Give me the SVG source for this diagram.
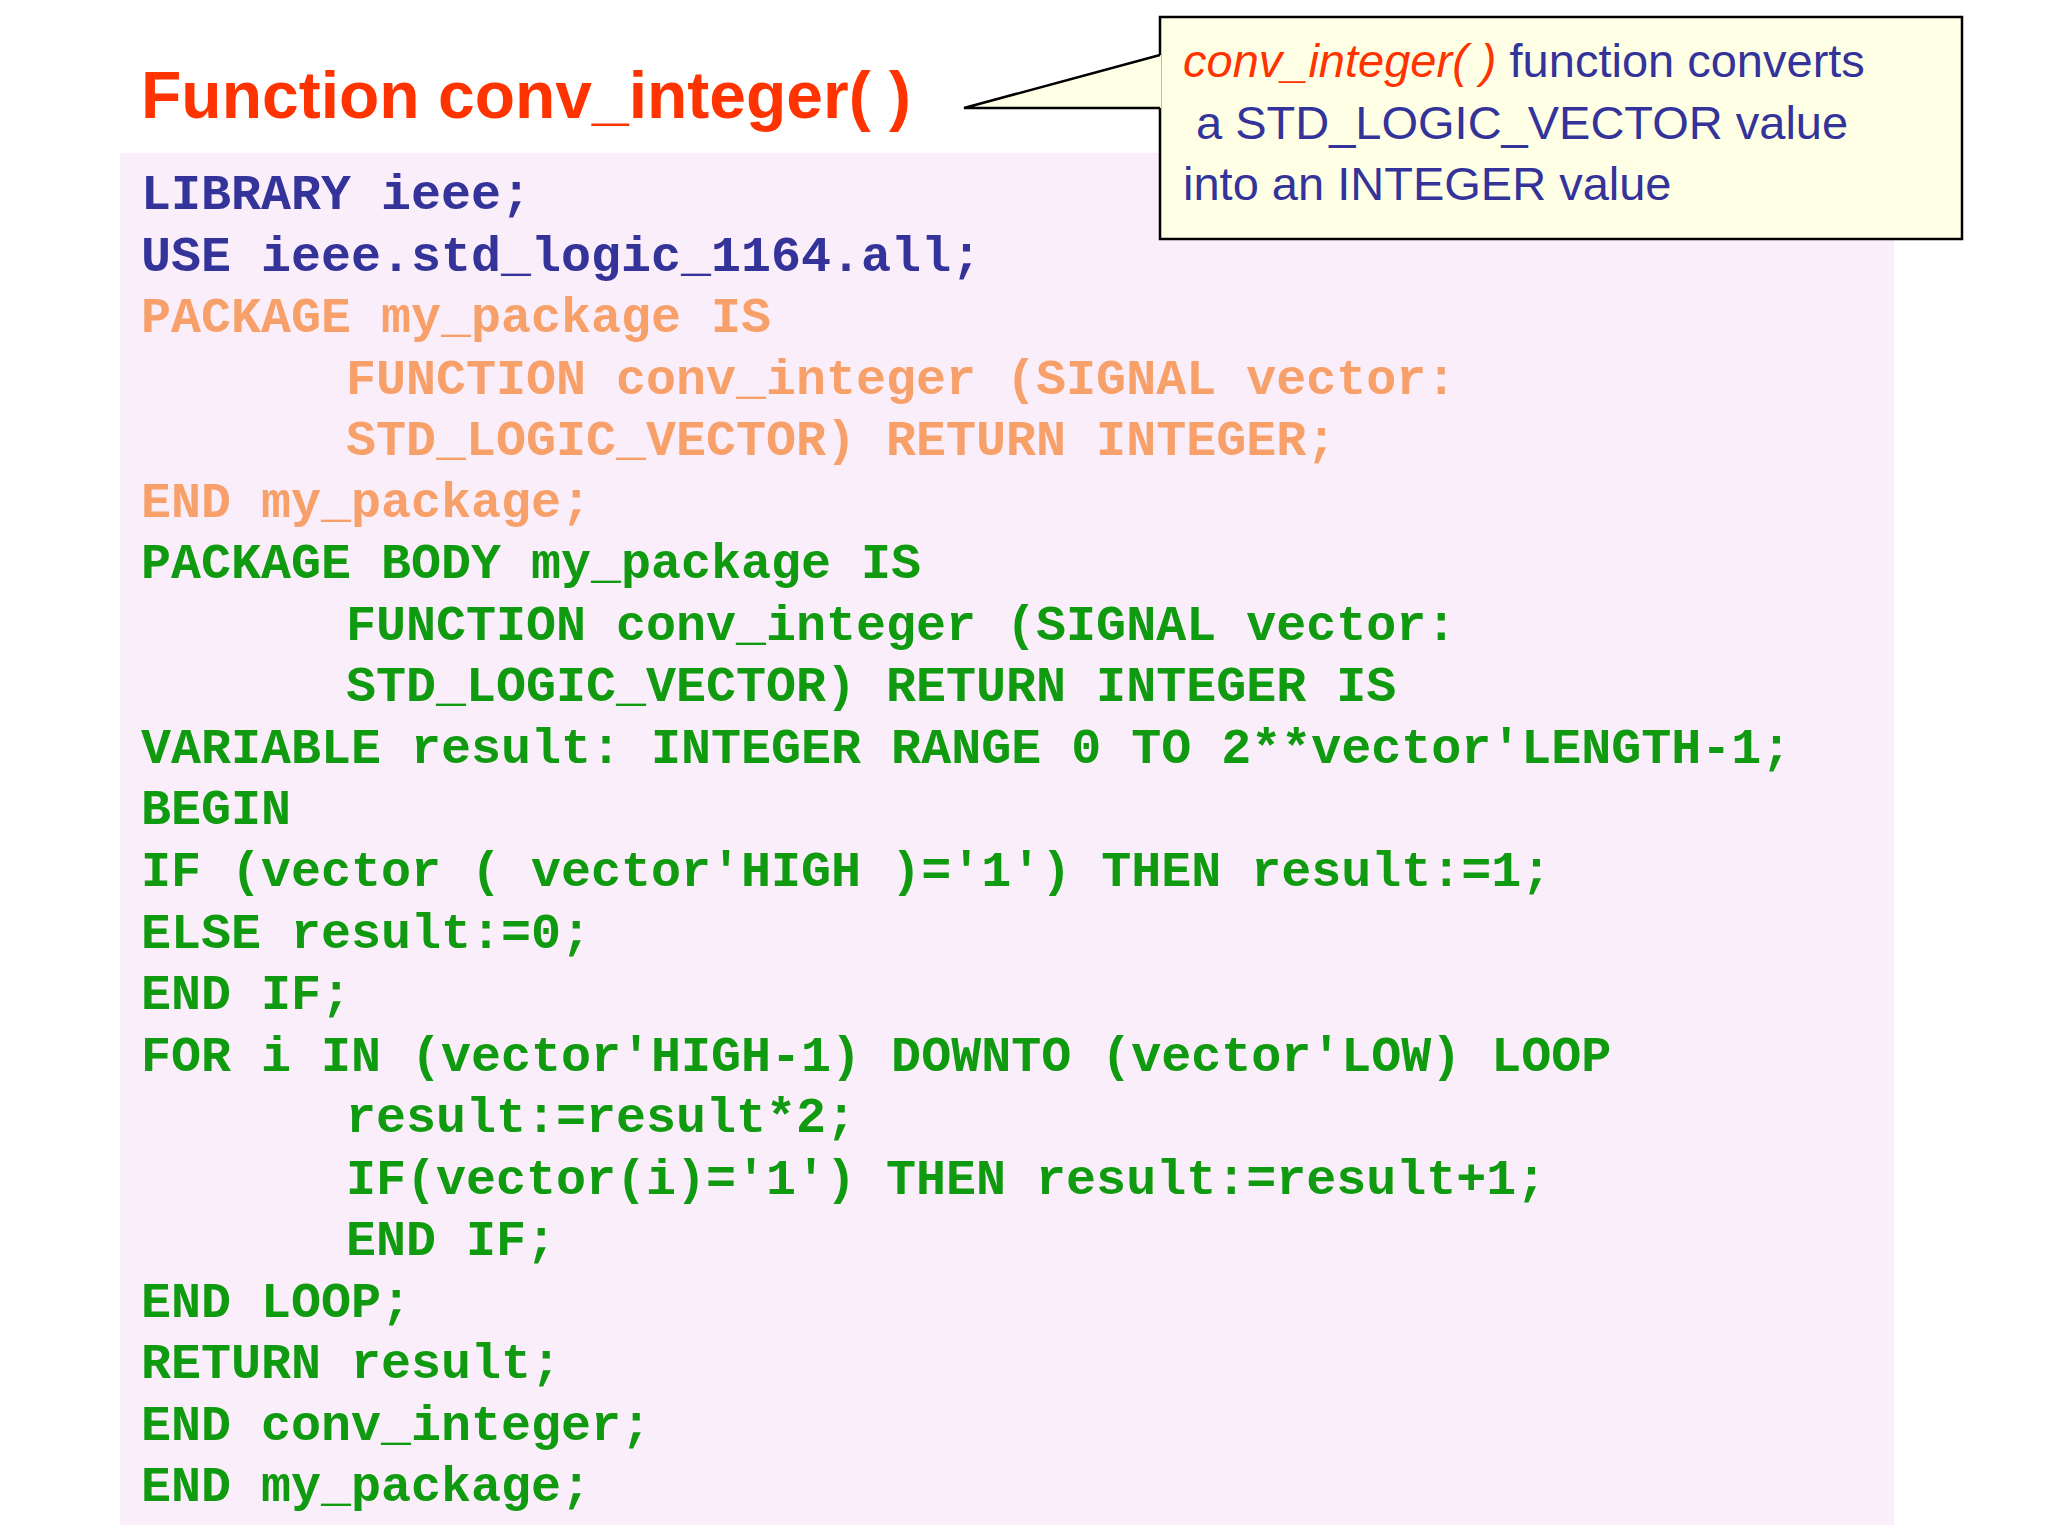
<svg xmlns="http://www.w3.org/2000/svg" width="2048" height="1536" viewBox="0 0 2048 1536">
<style>
.code{font-family:"Liberation Mono","Courier New",monospace;font-weight:bold;font-size:50px}
.b{fill:#333399}.o{fill:#F7A06A}.g{fill:#0F9A0F}
.call{font-family:"Liberation Sans",Arial,sans-serif;font-size:47px;fill:#333399}
</style>
<rect width="2048" height="1536" fill="#fff"/>
<rect x="120" y="153" width="1774" height="1372" fill="#FAEEFA"/>
<g id="title"><text x="141" y="118" font-family="Liberation Sans,Arial,sans-serif" font-weight="bold" font-size="66" fill="#FF3300">Function conv_integer( )</text></g>
<g id="callout">
<rect x="1160" y="17" width="802" height="222" fill="#FFFFE6" stroke="#000" stroke-width="2.5"/>
<polygon points="1161,55 964,108 1161,108" fill="#FFFFE6"/>
<polyline points="1160,55 964,108 1160,108" fill="none" stroke="#000" stroke-width="2.5"/>
<text class="call" x="1183" y="77"><tspan fill="#FF3300" font-style="italic">conv_integer( )</tspan> function converts</text>
<text class="call" x="1196" y="139">a STD_LOGIC_VECTOR value</text>
<text class="call" x="1183" y="200">into an  INTEGER value</text>
</g>
<g id="code" class="code" xml:space="preserve">
<text class="b" x="141" y="209">LIBRARY ieee;</text>
<text class="b" x="141" y="271">USE ieee.std_logic_1164.all;</text>
<text class="o" x="141" y="332">PACKAGE my_package IS</text>
<text class="o" x="346" y="394">FUNCTION conv_integer (SIGNAL vector:</text>
<text class="o" x="346" y="455">STD_LOGIC_VECTOR) RETURN INTEGER;</text>
<text class="o" x="141" y="517">END my_package;</text>
<text class="g" x="141" y="578">PACKAGE BODY my_package IS</text>
<text class="g" x="346" y="640">FUNCTION conv_integer (SIGNAL vector:</text>
<text class="g" x="346" y="701">STD_LOGIC_VECTOR) RETURN INTEGER IS</text>
<text class="g" x="141" y="763">VARIABLE result: INTEGER RANGE 0 TO 2**vector'LENGTH-1;</text>
<text class="g" x="141" y="824">BEGIN</text>
<text class="g" x="141" y="886">IF (vector ( vector'HIGH )='1') THEN result:=1;</text>
<text class="g" x="141" y="948">ELSE result:=0;</text>
<text class="g" x="141" y="1009">END IF;</text>
<text class="g" x="141" y="1071">FOR i IN (vector'HIGH-1) DOWNTO (vector'LOW) LOOP</text>
<text class="g" x="346" y="1132">result:=result*2;</text>
<text class="g" x="346" y="1194">IF(vector(i)='1') THEN result:=result+1;</text>
<text class="g" x="346" y="1255">END IF;</text>
<text class="g" x="141" y="1317">END LOOP;</text>
<text class="g" x="141" y="1378">RETURN result;</text>
<text class="g" x="141" y="1440">END conv_integer;</text>
<text class="g" x="141" y="1501">END my_package;</text>
</g>
</svg>
